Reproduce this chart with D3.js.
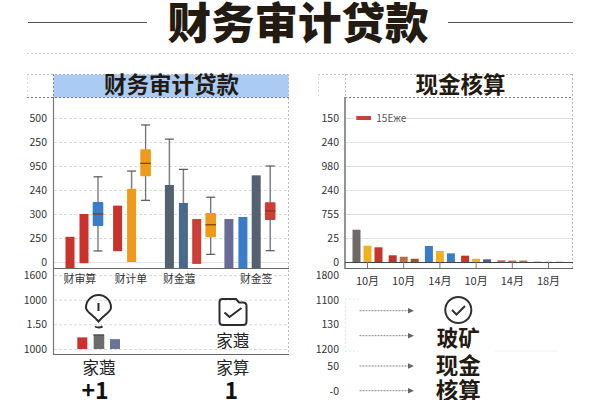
<!DOCTYPE html>
<html><head><meta charset="utf-8">
<script src="https://cdn.jsdelivr.net/npm/d3@7/dist/d3.min.js"></script>
<style>html,body{margin:0;background:#fff}svg{display:block}text{font-family:"Noto Sans CJK SC","Noto Sans",sans-serif}</style>
</head><body><svg id="c" width="600" height="400"></svg>
<script>
const mainTitle="财务审计贷款", leftTitle="财务审计贷款", rightTitle="现金核算";
const leftTicks=["0","250","300","240","950","250","500","678"];
const leftLowerTicks=["1000","1.50","1000","1600"];
const leftCats=["财审算","财计单","财金蕸","财金签"];
const barSlot=[0,1,3.4,4.4,7.1,8.1,9.05,11.35,12.35,13.3];
const barLow=[-0.25,-0.05,0.45,0,-0.25,-0.25,-0.08,-0.25,-0.25,-0.25];
const barHigh=[1.05,2,2.35,3.05,3.21,2.46,1.79,1.79,1.875,3.61];
const barWhisker=[null,null,null,3.79,5.12,3.86,null,null,null,null];
const barColor=["#c9332b","#c9332b","#c9332b","#ef9a1a","#54626f","#4a6a8c","#cb3f36","#6a6a96","#3a7cc8","#54626f"];
const boxSlot=[2,5.4,10.05,14.3];
const boxMin=[0.46,2.57,0.32,0.47];
const boxQ1=[1.5,3.57,1.03,1.75];
const boxMed=[2,4.11,1.55,2.125];
const boxQ3=[2.5,4.7,2.04,2.49];
const boxMax=[3.55,5.71,2.7,4];
const boxColor=["#3a7cc8","#ef9a1a","#ef9a1a","#cb3f36"];
const catSlot=[0.7,4.35,7.8,13.3];
const lowerBarSlot=[0,1,2];
const lowerBarVal=[0.47,0.58,0.4];
const lowerBarColor=["#c9332b","#6c6c6c","#6a7396"];
const leftCaptions=["家蕸","家算"], leftValues=["+1","1"];
const iconCaption="家蕸";
const rightTicks=["0","25","755","240","980","240","150","975"];
const rightLowerTicks=["1800","1100","130","1200","50","-0"];
const rightCats=["10月","10月","14月","10月","14月","18月"];
const rightVals=[[33.6,17,15.3],[7,5.5,3.4],[16.7,11.5,9],[6.6,3.4,2.8],[1.8,1.5,1.5],[0.4,0.3,0.3]];
const rightCols=[["#6f6a68","#f2b01e","#c9332b"],["#b5372f","#c4694a","#a84a38"],["#3a7cc8","#f2b01e","#3a7cc8"],["#c9332b","#f2b01e","#4a5f8c"],["#c4694a","#c4694a","#c4694a"],["#888","#888","#888"]];
const legendLabel="15Еже";
const rightWords=["玻矿","现金","核算"];

const svg=d3.select("#c");
const ink="#231a12", grid="#d9dcdc", tickInk="#333";
const T=(x,y,s,size,w,a,f)=>svg.append("text").attr("x",x).attr("y",y).attr("text-anchor",a||"middle").attr("font-size",size).attr("font-weight",w||400).attr("fill",f||ink).text(s);
const H=(x1,x2,y,c,sw,dash)=>svg.append("line").attr("x1",x1).attr("x2",x2).attr("y1",y).attr("y2",y).attr("stroke",c).attr("stroke-width",sw||1).attr("stroke-dasharray",dash||null);
const V=(x,y1,y2,c,sw,dash)=>svg.append("line").attr("x1",x).attr("x2",x).attr("y1",y1).attr("y2",y2).attr("stroke",c).attr("stroke-width",sw||1).attr("stroke-dasharray",dash||null);
const yAxis=(scale,labels,x)=>{
  const g=svg.append("g").attr("transform",`translate(${x},0)`)
    .call(d3.axisLeft(scale).tickValues(d3.range(labels.length)).tickFormat(i=>labels[i]).tickSize(0).tickPadding(0));
  g.select(".domain").remove();
  g.selectAll("text").attr("font-size",10.5).attr("fill",tickInk).style("font-family",'"Noto Sans CJK SC"');
  return g;
};
svg.append("clipPath").attr("id","below").append("rect").attr("x",-400).attr("y",95.5).attr("width",1000).attr("height",305);
const sliver=(axisG)=>{
  const t=axisG.selectAll(".tick").filter(i=>i==7);
  t.attr("clip-path","url(#below)");
  t.select("text").attr("y",2);
};

// header
T(298,38.5,mainTitle,43.5,900);
H(28,147,22.5,"#555",1.2);H(448,573,22.5,"#555",1.2);
H(27,573,53.5,"#cfd3d3",1,"2 2");

// left panel
const yL=d3.scaleLinear().domain([0,6]).range([262,118]);
const yLTick=d3.scaleLinear().domain([0,7]).range([262,94]);
const yLow=d3.scaleLinear().domain([0,3]).range([349,275]);
const xL=d3.scaleLinear().domain([0,14.3]).range([70,270.2]);
svg.append("rect").attr("x",53.5).attr("y",74.5).attr("width",235).attr("height",23).attr("fill","#a9cbf4");
H(27,289,74.5,"#bbb",1,"2 2");H(27,289,97.5,"#777",1,"2 2");V(53.5,74,97,"#888",1,"2 2");V(288.5,74,355,"#bbb",1,"2 2");V(27.5,74,97,"#ddd",1,"2 2");
T(171.5,93,leftTitle,22.5,700);
d3.range(7).forEach(i=>H(54,288,yL(i)+0.5,i==0?"#e2e4e4":grid,1,i==0?null:"3 2"));
d3.range(4).forEach(i=>H(54,288,yLow(i)+0.5,grid,1,"3 2"));
sliver(yAxis(yLTick,leftTicks,47));
yAxis(yLow,leftLowerTicks,47);
V(53.5,97,355,"#777",1.2);
H(53,289,268.5,"#666",1.2);H(53,289,354.5,"#666",1.2);
barSlot.forEach((s,i)=>{
  const x=xL(s);
  if(barWhisker[i]!=null){V(x,yL(barWhisker[i]),yL(barHigh[i]),"#7d7d7d",1.5);H(x-4.5,x+4.5,yL(barWhisker[i]),"#555",1.2);}
  svg.append("rect").attr("x",x-4.5).attr("y",yL(barHigh[i])).attr("width",9).attr("height",yL(barLow[i])-yL(barHigh[i])).attr("fill",barColor[i]);
});
boxSlot.forEach((s,i)=>{
  const x=xL(s);
  V(x,yL(boxMax[i]),yL(boxMin[i]),"#707070",1.3);
  H(x-4.5,x+4.5,yL(boxMax[i]),"#555",1.2);H(x-4.5,x+4.5,yL(boxMin[i]),"#555",1.2);
  svg.append("rect").attr("x",x-5.3).attr("y",yL(boxQ3[i])).attr("width",10.6).attr("height",yL(boxQ1[i])-yL(boxQ3[i])).attr("rx",1).attr("fill",boxColor[i]);
  H(x-5.3,x+5.3,yL(boxMed[i]),"#7a3c10",1.2);
});
catSlot.forEach((s,i)=>T(xL(s),283,leftCats[i],10.8,400,"middle","#333"));

// lower left
const xLow=d3.scaleLinear().domain([0,2]).range([82.3,115]);
lowerBarSlot.forEach((s,i)=>svg.append("rect").attr("x",xLow(s)-5).attr("y",yLow(lowerBarVal[i])).attr("width",i==1?10.6:10).attr("height",349-yLow(lowerBarVal[i])).attr("fill",lowerBarColor[i]));
H(xLow(1)-5.3,xLow(1)+5.3,335,"#444",1.2);
const lg=svg.append("g").attr("fill","none").attr("stroke","#2c2c2c").attr("stroke-width",2);
lg.append("path").attr("d","M98.500 321.500C92 314 86 312 86 307.500A12.500 12.500 0 0 1 111 307.500C111 312 105 314 98.500 321.500Z");
lg.append("path").attr("d","M98.500 303V311M95 326.500Q98.500 328.500 102.500 326.500");
lg.append("path").attr("d","M219.500 302Q219.500 299 222.500 299H236L239 302.500H243Q246.500 302.500 246.500 306V321.500Q246.500 325 243 325H223Q219.500 325 219.500 321.500Z");
lg.append("path").attr("d","M224.500 312.500L229.500 317L241.500 308");
T(232.7,347,iconCaption,16.5,400,"middle","#222");
T(99,373.5,leftCaptions[0],16.5,400,"middle","#222");T(232.7,373.5,leftCaptions[1],16.5,400,"middle","#222");
T(95,398.5,leftValues[0],23,700,"middle","#111");T(231.3,398.5,leftValues[1],23,700,"middle","#111");

// right panel
const x0=d3.scaleBand().domain(d3.range(rightCats.length)).range([349.4,566.6]);
const yR=d3.scaleLinear().domain([0,150]).range([262,118]);
const yRTick=d3.scaleLinear().domain([0,7]).range([262,94]);
H(318,573,74.5,"#bbb",1,"2 2");H(345,573,97.5,"#777",1,"2 2");V(318.5,74,97,"#ddd",1,"2 2");V(345.5,74,97,"#bbb",1,"2 2");V(572.5,74,268,"#bbb",1,"2 2");
T(460.5,93,rightTitle,22.5,700);
d3.range(1,7).forEach(i=>H(346,572,yRTick(i)+0.5,grid,1,i%2?"3 1":null));
sliver(yAxis(yRTick,rightTicks,339));
V(345,97,269,"#888",1.8);H(345,573,262.5,"#444",1.2);H(345,573,268.5,"#666",1.2);
const xItem=d3.scalePoint().domain([0,1,2]).range([-11,11]);
rightVals.forEach((g,i)=>{
  const cx=x0(i)+x0.bandwidth()/2;
  g.forEach((v,j)=>svg.append("rect").attr("x",cx+xItem(j)-4).attr("y",yR(v)).attr("width",8).attr("height",262-yR(v)).attr("fill",rightCols[i][j]));
});
const xa=svg.append("g").attr("transform","translate(0,262)").call(d3.axisBottom(x0).tickFormat(i=>rightCats[i]).tickSize(6).tickPadding(9));
xa.select(".domain").remove();
xa.selectAll("line").attr("stroke","#777");
xa.selectAll("text").attr("font-size",11).attr("fill",tickInk).style("font-family",'"Noto Sans CJK SC"');
svg.append("rect").attr("x",354).attr("y",112).attr("width",52).attr("height",12).attr("fill","#fff");
svg.append("rect").attr("x",356.3).attr("y",116).attr("width",14.7).attr("height",4).attr("fill","#c8403a");
T(376.3,122,legendLabel,10,400,"start","#555");

// lower right
const lowRightY=d3.scaleOrdinal().domain(d3.range(rightLowerTicks.length)).range([275,299.7,324,349,366,390.7]);
rightLowerTicks.forEach((t,i)=>T(339,lowRightY(i)+3.8,t,10.5,400,"end",tickInk));
V(345.5,298,352,"#e4e6e6",1,"2 2");H(345,358,299,"#e4e6e6",1,"2 2");H(345,358,351,"#e4e6e6",1,"2 2");H(495,558,351,"#eef0f0",1);
const arrowY=[310.7,335.7,366,390.7];
arrowY.forEach(y=>{H(359.5,408,y,"#888",1,"2 1");svg.append("path").attr("d",`M408 ${y-2.8}L414 ${y}L408 ${y+2.8}Z`).attr("fill","#666");});
const rg=svg.append("g").attr("fill","none").attr("stroke","#333").attr("stroke-width",2);
rg.append("circle").attr("cx",458.3).attr("cy",310).attr("r",13);
rg.append("path").attr("d","M452 310L456.500 314.500L465 306");
rightWords.forEach((w,i)=>T(458.3,[346,374,398.5][i],w,i==0?21.5:22.5,700));
</script></body></html>
